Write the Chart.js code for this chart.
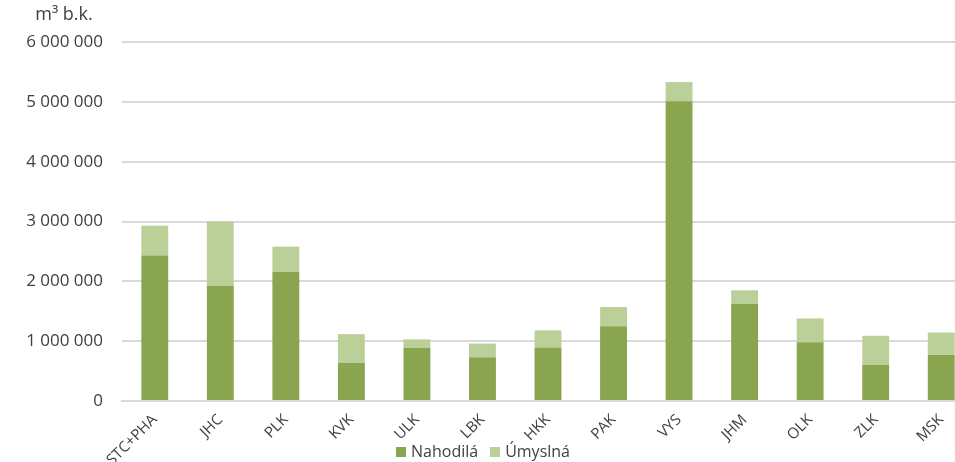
<!DOCTYPE html>
<html>
<head>
<meta charset="utf-8">
<script src="https://cdn.jsdelivr.net/npm/chart.js@4"></script>
<style>
  html, body { margin: 0; padding: 0; background: #fff; overflow: hidden; }
  .wrap { position: relative; width: 980px; height: 462px; }
  .legend {
    position: absolute; top: 440px; left: 396px;
    font: 16px "Open Sans", sans-serif; color: #404040;
    display: flex; gap: 12px; align-items: center;
  }
  .legend span.box { display: inline-block; width: 10px; height: 10px; margin-right: 5px; }
</style>
</head>
<body>
<div class="wrap">
  <canvas id="chart" width="980" height="462"></canvas>
  <div class="legend">
    <span><span class="box" style="background:#8aa54f"></span>Nahodilá</span>
    <span><span class="box" style="background:#bbd098"></span>Úmyslná</span>
  </div>
</div>
<script>
const regions = ["STC+PHA", "JHC", "PLK", "KVK", "ULK", "LBK", "HKK", "PAK", "VYS", "JHM", "OLK", "ZLK", "MSK"];
const nahodila = [2430000, 1920000, 2155000, 640000, 890000, 730000, 895000, 1250000, 5010000, 1620000, 980000, 605000, 770000];
const umyslna = [500000, 1080000, 425000, 477000, 140000, 230000, 285000, 320000, 320000, 230000, 400000, 485000, 375000];
const yTicks = [0, 1000000, 2000000, 3000000, 4000000, 5000000, 6000000];

const DARK = "#8aa54f";
const LIGHT = "#bbd098";
const FONT = "'Open Sans', sans-serif";

const fmt = (v) => String(v).replace(/\B(?=(\d{3})+(?!\d))/g, " ");

// unit label above the y axis
const unitLabel = {
  id: "unitLabel",
  afterDraw(chart) {
    const ctx = chart.ctx;
    ctx.save();
    ctx.font = "18px " + FONT;
    ctx.fillStyle = "#404040";
    ctx.textAlign = "center";
    ctx.textBaseline = "middle";
    ctx.fillText("m³ b.k.", 64, 15);
    ctx.restore();
  },
};

new Chart(document.getElementById("chart"), {
  type: "bar",
  data: {
    labels: regions,
    datasets: [
      { label: "Nahodilá", data: nahodila, backgroundColor: DARK, barPercentage: 0.41, categoryPercentage: 1 },
      { label: "Úmyslná", data: umyslna, backgroundColor: LIGHT, barPercentage: 0.41, categoryPercentage: 1 },
    ],
  },
  options: {
    responsive: false,
    animation: false,
    layout: { padding: { top: 42, right: 6, left: 0, bottom: 0 } },
    plugins: { legend: { display: false }, tooltip: { enabled: false } },
    scales: {
      x: {
        stacked: true,
        grid: { display: false },
        border: { color: "#d9d9d9", width: 2 },
        ticks: { font: { family: FONT, size: 15 }, color: "#404040", maxRotation: 45, minRotation: 45, padding: 2 },
        afterFit: (s) => { s.height = 61; },
      },
      y: {
        stacked: true,
        min: 0,
        max: 6000000,
        afterBuildTicks: (s) => { s.ticks = yTicks.map((v) => ({ value: v })); },
        grid: { color: "#d9d9d9", lineWidth: 2, drawTicks: false },
        border: { display: false },
        ticks: { font: { family: FONT, size: 17 }, color: "#404040", padding: 19, callback: (v) => fmt(v) },
        afterFit: (s) => { s.width = 122; },
      },
    },
  },
  plugins: [unitLabel],
});
</script>
</body>
</html>
